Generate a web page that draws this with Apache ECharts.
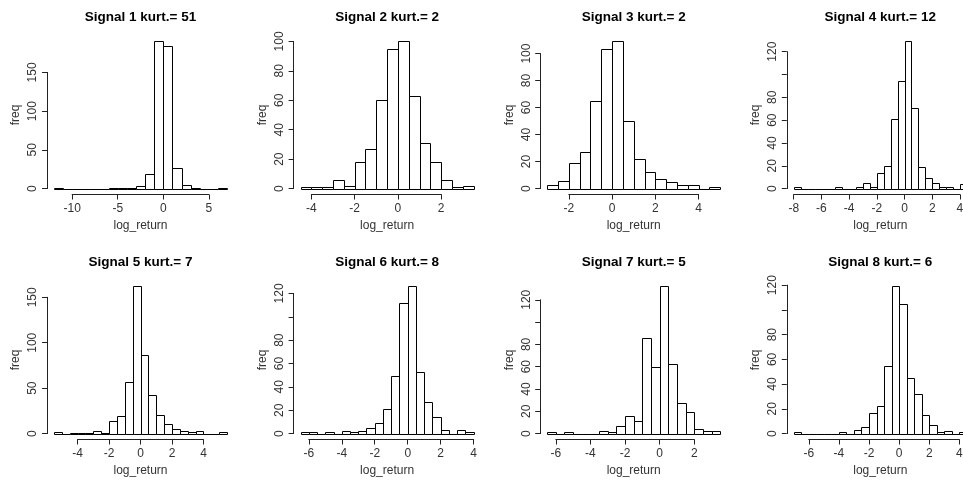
<!DOCTYPE html>
<html lang="en">
<head>
<meta charset="UTF-8">
<title>signal histograms</title>
<script src="https://cdn.jsdelivr.net/npm/echarts@6/dist/echarts.min.js"></script>
<style>
    body { margin: 0; background: #fff; }
    #chart { width: 963px; height: 482px; }
</style>
</head>
<body>
<div id="chart"></div>
<script>
    const titles = ['Signal 1 kurt.= 51', 'Signal 2 kurt.= 2', 'Signal 3 kurt.= 2', 'Signal 4 kurt.= 12',
                    'Signal 5 kurt.= 7', 'Signal 6 kurt.= 8', 'Signal 7 kurt.= 5', 'Signal 8 kurt.= 6'];

    // bins: [from, to, width], counts
    const bins1 = [-12, 7, 1];
    const counts1 = [1, 0, 0, 0, 0, 0, 1, 1, 1, 3, 19, 190, 184, 27, 5, 1, 0, 0, 1];
    const bins2 = [-4.5, 3.5, 0.5];
    const counts2 = [1, 1, 1, 6, 2, 18, 27, 60, 95, 100, 63, 31, 18, 6, 1, 2];
    const bins3 = [-3, 5, 0.5];
    const counts3 = [3, 6, 19, 27, 65, 103, 109, 50, 22, 12, 7, 5, 3, 3, 0, 1];
    const bins4 = [-8, 4.5, 0.5];
    const counts4 = [1, 0, 0, 0, 0, 0, 1, 0, 0, 1, 5, 1, 14, 20, 61, 94, 129, 71, 19, 9, 5, 1, 1, 0, 4];
    const bins5 = [-5.5, 5.5, 0.5];
    const counts5 = [2, 0, 1, 1, 1, 3, 1, 14, 19, 57, 162, 87, 43, 20, 11, 5, 3, 2, 3, 0, 0, 2];
    const bins6 = [-6.5, 4, 0.5];
    const counts6 = [1, 1, 0, 1, 0, 2, 1, 2, 5, 9, 21, 49, 112, 126, 53, 27, 14, 3, 0, 3, 1];
    const bins7 = [-6.5, 3.5, 0.5];
    const counts7 = [1, 0, 1, 0, 0, 0, 2, 1, 7, 16, 11, 86, 60, 132, 62, 27, 19, 4, 2, 2];
    const bins8 = [-7, 4.5, 0.5];
    const counts8 = [1, 0, 0, 0, 0, 0, 1, 0, 3, 5, 17, 22, 55, 119, 105, 45, 32, 15, 7, 1, 2, 0, 1];

    const xTicks1 = [-10, -5, 0, 5];
    const xTicks2 = [-4, -2, 0, 2];
    const xTicks3 = [-2, 0, 2, 4];
    const xTicks4 = [-8, -6, -4, -2, 0, 2, 4];
    const xTicks5 = [-4, -2, 0, 2, 4];
    const xTicks6 = [-6, -4, -2, 0, 2, 4];
    const xTicks7 = [-6, -4, -2, 0, 2];
    const xTicks8 = [-6, -4, -2, 0, 2, 4];

    const yTicks50 = [0, 50, 100, 150];
    const yLabels50 = ['0', '50', '100', '150'];
    const yTicks100 = [0, 20, 40, 60, 80, 100];
    const yLabels100 = ['0', '20', '40', '60', '80', '100'];
    const yTicks120 = [0, 20, 40, 60, 80, 100, 120];
    const yLabels120 = ['0', '20', '40', '60', '80', '', '120'];   // R drops the 100 label

    const panels = [
        {bins: bins1, counts: counts1, xTicks: xTicks1, yTicks: yTicks50, yLabels: yLabels50},
        {bins: bins2, counts: counts2, xTicks: xTicks2, yTicks: yTicks100, yLabels: yLabels100},
        {bins: bins3, counts: counts3, xTicks: xTicks3, yTicks: yTicks100, yLabels: yLabels100},
        {bins: bins4, counts: counts4, xTicks: xTicks4, yTicks: yTicks120, yLabels: yLabels120},
        {bins: bins5, counts: counts5, xTicks: xTicks5, yTicks: yTicks50, yLabels: yLabels50},
        {bins: bins6, counts: counts6, xTicks: xTicks6, yTicks: yTicks120, yLabels: yLabels120},
        {bins: bins7, counts: counts7, xTicks: xTicks7, yTicks: yTicks120, yLabels: yLabels120},
        {bins: bins8, counts: counts8, xTicks: xTicks8, yTicks: yTicks120, yLabels: yLabels120}
    ];

    // plot regions (px), like par(mfrow = c(2, 4))
    const colLeft = [47, 293.6, 540.2, 786.8];
    const rowTop = [35.5, 280.5];
    const plotW = 187, plotH = 159;

    const font = '"Liberation Sans", Arial, sans-serif';
    const ink = '#222';
    const txt = '#333';

    const chart = echarts.init(document.getElementById('chart'));
    const grid = [], xAxis = [], yAxis = [], series = [], graphic = [];

    panels.forEach((p, i) => {
        const left = colLeft[i % 4];
        const top = rowTop[Math.floor(i / 4)];
        const lo = p.bins[0], hi = p.bins[1], w = p.bins[2];
        const ymax = Math.max(...p.counts);
        // R pads the plotted range by 4% each side
        const ux0 = lo - 0.04 * (hi - lo), ux1 = hi + 0.04 * (hi - lo);
        const uy0 = -0.04 * ymax, uy1 = 1.04 * ymax;
        const px = v => left + (v - ux0) / (ux1 - ux0) * plotW;
        const py = v => top + plotH - (v - uy0) / (uy1 - uy0) * plotH;
        const xa = p.xTicks[0], xb = p.xTicks[p.xTicks.length - 1];
        const yb = p.yTicks[p.yTicks.length - 1];

        grid.push({
            left: px(xa), top: py(yb),
            width: px(xb) - px(xa), height: py(0) - py(yb),
            outerBoundsMode: 'none'
        });

        xAxis.push({
            gridIndex: i, type: 'value',
            min: xa, max: xb, interval: p.xTicks[1] - p.xTicks[0],
            offset: top + plotH - py(0),
            axisLine: {onZero: false, lineStyle: {color: ink, width: 1}},
            axisTick: {length: 5, lineStyle: {color: ink}},
            axisLabel: {margin: 8, fontSize: 12, color: txt, fontFamily: font},
            splitLine: {show: false}
        });

        yAxis.push({
            gridIndex: i, type: 'value',
            min: 0, max: yb, interval: p.yTicks[1] - p.yTicks[0],
            offset: px(xa) - left,
            axisLine: {show: true, onZero: false, lineStyle: {color: ink, width: 1}},
            axisTick: {show: true, length: 5, lineStyle: {color: ink}},
            axisLabel: {
                rotate: 90, margin: 8, fontSize: 12, color: txt, fontFamily: font,
                formatter: v => {
                    const k = p.yTicks.indexOf(v);
                    return k < 0 ? '' : p.yLabels[k];
                }
            },
            splitLine: {show: false}
        });

        const data = p.counts.map((c, k) => [lo + k * w, lo + (k + 1) * w, c]);
        series.push({
            type: 'custom',
            xAxisIndex: i, yAxisIndex: i,
            clip: false,
            encode: {x: [0, 1], y: 2},
            data: data,
            renderItem: (params, api) => {
                const a = api.coord([api.value(0), 0]);
                const b = api.coord([api.value(1), api.value(2)]);
                const x = Math.round(a[0]) + 0.5, x2 = Math.round(b[0]) + 0.5;
                const y = Math.round(b[1]) + 0.5, y2 = Math.round(a[1]) + 0.5;
                return {
                    type: 'rect',
                    shape: {x: x, y: y, width: x2 - x, height: y2 - y},
                    style: {fill: '#fff', stroke: '#000', lineWidth: 1}
                };
            }
        });

        graphic.push({
            type: 'text', x: left + plotW / 2, y: top - 18,
            style: {text: titles[i], font: 'bold 13.5px ' + font, fill: '#000',
                    align: 'center', verticalAlign: 'middle', textAlign: 'center', textVerticalAlign: 'middle'}
        });
        graphic.push({
            type: 'text', x: left + plotW / 2, y: top + plotH + 31,
            style: {text: 'log_return', font: '12px ' + font, fill: txt,
                    align: 'center', verticalAlign: 'middle', textAlign: 'center', textVerticalAlign: 'middle'}
        });
        graphic.push({
            type: 'text', x: left - 31, y: top + plotH / 2, rotation: Math.PI / 2,
            style: {text: 'freq', font: '12px ' + font, fill: txt,
                    align: 'center', verticalAlign: 'middle', textAlign: 'center', textVerticalAlign: 'middle'}
        });
    });

    chart.setOption({
        animation: false,
        backgroundColor: '#fff',
        grid: grid,
        xAxis: xAxis,
        yAxis: yAxis,
        series: series,
        graphic: graphic
    });
</script>
</body>
</html>
